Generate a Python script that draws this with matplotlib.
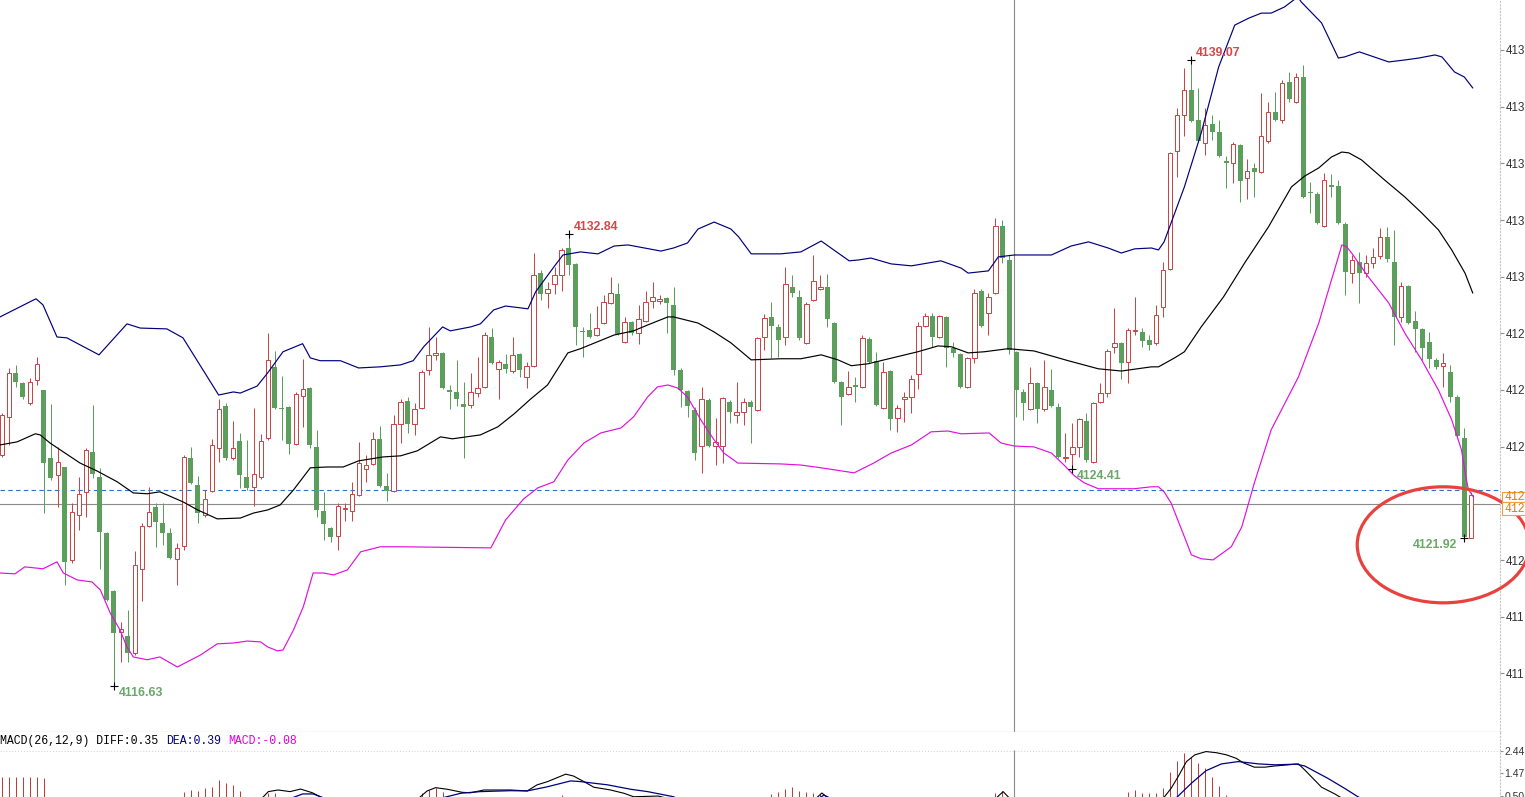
import matplotlib
matplotlib.use('Agg')
import matplotlib.pyplot as plt
import matplotlib.transforms as mtransforms
from matplotlib.patches import Ellipse, Rectangle
import numpy as np

nan = np.nan

# candles (1 bar per slot, oldest first)
opens = [4124.91, 4126.28, 4127.85, 4127.49, 4126.77, 4127.60, 4127.24, 4124.80, 4124.20, 4124.48,
         4121.15, 4122.76, 4123.59, 4125.02, 4124.13, 4122.12, 4120.03, 4118.57, 4118.42, 4117.81,
         4120.83, 4122.36, 4123.05, 4122.47, 4122.12, 4121.19, 4121.65, 4124.80, 4123.84, 4122.76,
         4123.62, 4125.16, 4126.67, 4124.80, 4125.41, 4124.13, 4123.77, 4124.13, 4125.52, 4128.07,
         4126.60, 4126.63, 4125.31, 4127.03, 4127.31, 4125.20, 4122.90, 4122.29, 4122.01, 4122.98,
         4122.90, 4123.48, 4124.41, 4124.59, 4125.49, 4123.80, 4123.62, 4126.03, 4126.85, 4126.03,
         4126.60, 4127.96, 4128.50, 4128.57, 4127.24, 4127.17, 4126.74, 4126.70, 4127.13, 4127.35,
         4129.14, 4128.00, 4128.18, 4127.92, 4128.54, 4127.71, 4128.11, 4131.43, 4130.72, 4131.05,
         4131.36, 4132.33, 4131.76, 4129.36, 4129.39, 4129.21, 4129.64, 4130.36, 4130.69, 4128.97,
         4129.68, 4129.28, 4129.71, 4130.43, 4130.43, 4130.54, 4130.29, 4127.96, 4127.20, 4126.53,
         4125.23, 4126.88, 4125.23, 4125.23, 4126.81, 4126.35, 4126.46, 4126.81, 4126.53, 4129.14,
         4129.86, 4129.50, 4129.14, 4130.94, 4130.58, 4128.93, 4130.47, 4130.87, 4130.94, 4129.64,
         4127.53, 4127.10, 4127.42, 4127.35, 4129.07, 4128.29, 4126.60, 4127.92, 4126.24, 4126.92,
         4126.99, 4127.82, 4129.54, 4129.89, 4129.14, 4129.86, 4128.75, 4128.54, 4127.35, 4128.39,
         4130.79, 4130.00, 4130.72, 4133.12, 4131.90, 4128.61, 4127.17, 4126.56, 4127.49, 4126.56,
         4127.24, 4126.63, 4124.80, 4124.95, 4125.20, 4126.13, 4124.66, 4126.81, 4127.13, 4128.79,
         4128.93, 4128.25, 4129.36, 4129.32, 4129.04, 4128.93, 4130.22, 4131.58, 4135.81, 4137.10,
         4137.99, 4136.92, 4136.10, 4136.78, 4136.49, 4135.45, 4135.38, 4136.02, 4134.84, 4135.20,
         4135.06, 4136.17, 4137.21, 4136.92, 4138.28, 4137.57, 4138.46, 4134.34, 4134.27, 4133.12,
         4134.59, 4134.55, 4133.19, 4131.43, 4131.83, 4131.43, 4131.79, 4132.04, 4132.73, 4131.83,
         4129.86, 4130.97, 4129.71, 4129.43, 4128.97, 4128.32, 4128.11, 4127.89, 4126.99, 4125.52,
         4121.92]
highs = [4126.42, 4128.03, 4128.14, 4127.53, 4127.67, 4128.43, 4127.24, 4126.74, 4125.20, 4124.48,
         4123.19, 4124.13, 4125.16, 4126.70, 4124.45, 4122.16, 4120.07, 4118.93, 4119.36, 4121.47,
         4122.47, 4123.77, 4123.19, 4123.19, 4122.29, 4121.76, 4124.91, 4125.20, 4124.16, 4123.66,
         4125.49, 4126.92, 4126.77, 4126.13, 4125.70, 4125.45, 4126.60, 4125.67, 4129.28, 4128.64,
         4127.74, 4126.67, 4127.17, 4128.36, 4127.35, 4125.81, 4123.59, 4122.33, 4123.19, 4123.19,
         4123.95, 4125.38, 4124.91, 4125.74, 4125.95, 4124.27, 4126.35, 4126.92, 4126.99, 4126.77,
         4127.96, 4129.50, 4129.14, 4128.61, 4127.42, 4128.32, 4127.53, 4127.85, 4128.43, 4129.32,
         4129.46, 4128.32, 4128.54, 4129.14, 4128.57, 4128.25, 4132.15, 4131.54, 4131.12, 4131.65,
         4132.33, 4132.84, 4131.79, 4129.50, 4130.00, 4130.25, 4130.65, 4131.29, 4131.08, 4129.86,
         4129.71, 4130.29, 4130.79, 4131.12, 4130.65, 4130.58, 4130.94, 4128.03, 4127.24, 4126.63,
         4127.35, 4126.96, 4126.24, 4126.99, 4126.88, 4127.53, 4126.96, 4126.88, 4129.14, 4129.97,
         4130.40, 4129.61, 4131.65, 4131.36, 4130.83, 4130.40, 4132.08, 4131.36, 4131.40, 4129.68,
         4127.56, 4127.92, 4127.71, 4129.21, 4129.14, 4128.61, 4128.25, 4127.96, 4126.70, 4127.17,
         4127.78, 4129.68, 4130.00, 4130.00, 4129.93, 4129.89, 4128.97, 4128.57, 4128.43, 4130.87,
         4130.87, 4130.72, 4133.41, 4133.34, 4132.08, 4128.64, 4127.28, 4128.07, 4127.53, 4128.32,
         4128.00, 4126.77, 4125.70, 4126.06, 4126.24, 4126.42, 4126.81, 4127.49, 4128.72, 4130.18,
         4128.97, 4129.46, 4130.58, 4129.46, 4129.21, 4130.29, 4131.83, 4135.77, 4137.35, 4138.78,
         4139.07, 4138.07, 4137.35, 4137.10, 4136.92, 4135.63, 4136.13, 4136.06, 4135.52, 4135.38,
         4137.89, 4137.57, 4137.92, 4138.35, 4138.64, 4138.60, 4138.89, 4134.70, 4134.34, 4135.02,
         4134.98, 4134.77, 4133.26, 4132.08, 4132.19, 4132.08, 4132.33, 4133.05, 4133.08, 4132.98,
         4131.12, 4131.01, 4130.07, 4129.46, 4129.32, 4128.39, 4128.57, 4128.14, 4127.06, 4125.88,
         4123.59]
lows = [4124.84, 4125.27, 4127.35, 4126.92, 4126.70, 4127.42, 4122.83, 4124.02, 4123.05, 4120.25,
        4121.04, 4122.23, 4122.69, 4124.09, 4120.83, 4119.68, 4116.63, 4117.50, 4117.50, 4117.74,
        4119.68, 4122.33, 4121.62, 4121.69, 4121.19, 4120.25, 4121.51, 4123.88, 4122.47, 4122.69,
        4123.59, 4124.66, 4124.73, 4124.73, 4123.73, 4123.66, 4123.09, 4124.06, 4125.45, 4126.56,
        4125.45, 4124.95, 4125.27, 4125.92, 4125.16, 4122.69, 4121.87, 4121.80, 4121.51, 4122.55,
        4122.55, 4123.44, 4123.95, 4124.55, 4123.77, 4123.26, 4123.59, 4125.34, 4125.70, 4125.63,
        4126.56, 4127.78, 4128.32, 4127.28, 4126.56, 4126.67, 4124.80, 4126.60, 4126.99, 4127.31,
        4128.18, 4126.92, 4127.85, 4127.85, 4127.71, 4127.31, 4128.07, 4130.47, 4130.18, 4130.69,
        4130.79, 4131.36, 4128.86, 4128.43, 4129.11, 4129.18, 4129.61, 4130.33, 4129.21, 4128.93,
        4129.21, 4128.90, 4129.68, 4130.18, 4130.33, 4129.28, 4127.78, 4126.63, 4126.28, 4124.73,
        4124.27, 4125.20, 4124.55, 4124.62, 4126.06, 4126.06, 4125.99, 4125.34, 4126.49, 4128.68,
        4128.39, 4128.43, 4128.86, 4130.58, 4129.04, 4128.90, 4130.43, 4130.83, 4129.50, 4127.49,
        4125.99, 4127.06, 4126.81, 4127.31, 4128.21, 4126.67, 4126.56, 4125.81, 4125.74, 4126.10,
        4126.42, 4127.28, 4129.50, 4128.79, 4129.11, 4128.07, 4128.43, 4127.31, 4127.31, 4128.21,
        4129.50, 4129.21, 4130.69, 4131.79, 4128.54, 4126.28, 4126.17, 4126.53, 4126.06, 4126.49,
        4126.63, 4124.80, 4124.66, 4124.41, 4124.84, 4124.66, 4124.62, 4126.77, 4126.99, 4128.57,
        4127.64, 4127.49, 4129.21, 4128.79, 4128.68, 4128.86, 4129.86, 4131.54, 4134.88, 4136.35,
        4136.85, 4136.13, 4135.67, 4136.20, 4135.60, 4134.48, 4134.66, 4133.98, 4134.09, 4134.16,
        4135.02, 4136.10, 4136.88, 4136.81, 4137.57, 4137.53, 4134.12, 4133.59, 4133.19, 4133.08,
        4134.16, 4133.19, 4130.65, 4131.08, 4130.36, 4131.29, 4131.61, 4131.94, 4131.83, 4128.86,
        4129.68, 4129.61, 4128.61, 4128.32, 4128.03, 4128.00, 4127.35, 4126.81, 4125.56, 4121.92,
        4121.92]
closes = [4126.35, 4127.85, 4127.53, 4126.99, 4127.53, 4128.18, 4124.62, 4124.09, 4124.66, 4121.08,
          4122.87, 4123.52, 4125.09, 4124.23, 4122.16, 4119.72, 4118.53, 4118.68, 4117.81, 4120.97,
          4122.36, 4122.87, 4122.51, 4122.12, 4121.22, 4121.58, 4124.84, 4123.91, 4122.83, 4123.34,
          4125.27, 4126.56, 4124.80, 4125.16, 4124.20, 4123.73, 4124.23, 4125.41, 4128.32, 4126.60,
          4126.56, 4125.31, 4127.10, 4127.28, 4125.27, 4122.94, 4122.44, 4121.98, 4123.09, 4123.01,
          4123.52, 4124.62, 4124.55, 4125.49, 4123.80, 4123.62, 4126.03, 4126.81, 4126.03, 4126.56,
          4127.89, 4128.50, 4128.57, 4127.31, 4127.17, 4126.92, 4126.63, 4127.17, 4127.31, 4129.21,
          4128.21, 4128.25, 4128.00, 4128.50, 4127.96, 4128.11, 4131.36, 4130.69, 4130.87, 4131.36,
          4132.26, 4131.72, 4129.50, 4129.32, 4129.14, 4129.46, 4130.40, 4130.72, 4129.25, 4129.68,
          4129.28, 4129.79, 4130.40, 4130.58, 4130.51, 4130.36, 4127.96, 4127.24, 4126.67, 4124.98,
          4126.92, 4125.23, 4125.38, 4126.96, 4126.46, 4126.46, 4126.81, 4126.63, 4129.11, 4129.82,
          4129.54, 4129.04, 4131.05, 4130.72, 4129.11, 4130.33, 4131.15, 4130.94, 4129.79, 4127.53,
          4126.99, 4127.35, 4127.35, 4129.11, 4128.25, 4126.70, 4127.89, 4126.20, 4126.60, 4126.99,
          4127.64, 4129.54, 4129.89, 4129.14, 4129.89, 4128.75, 4128.57, 4127.35, 4128.39, 4130.72,
          4129.54, 4130.58, 4133.12, 4131.97, 4128.68, 4127.24, 4126.77, 4127.49, 4126.56, 4127.35,
          4126.67, 4124.84, 4124.84, 4125.20, 4126.20, 4124.73, 4126.77, 4127.13, 4128.64, 4128.93,
          4128.21, 4129.39, 4129.39, 4129.00, 4128.86, 4129.93, 4131.54, 4135.74, 4137.10, 4137.99,
          4136.88, 4136.17, 4136.74, 4136.49, 4135.63, 4135.38, 4136.06, 4134.73, 4135.09, 4135.06,
          4136.35, 4137.21, 4136.92, 4138.24, 4137.67, 4138.46, 4134.16, 4134.30, 4133.23, 4134.77,
          4134.52, 4133.23, 4131.47, 4131.90, 4131.43, 4131.79, 4132.01, 4132.73, 4131.94, 4129.86,
          4130.97, 4129.64, 4129.43, 4128.75, 4128.36, 4128.07, 4128.21, 4126.99, 4125.59, 4121.98,
          4123.48]

# bollinger bands at (bar slot, price)
upper_pos = [-0.24, 4.9, 5.9, 7.9, 9.3, 13.9, 17.9, 19.8, 23.6, 25.9, 31.0, 33.1, 34.1, 36.5, 38.0,
             40.2, 43.0, 44.1, 45.5, 48.4, 51.0, 54.1, 57.0, 58.8, 60.3, 63.0, 64.1, 67.0, 68.4, 70.3,
             72.0, 75.2, 76.3, 78.9, 80.2, 82.7, 85.2, 87.5, 89.5, 94.2, 96.0, 98.0, 99.5, 101.8, 104.2,
             105.3, 107.1, 111.3, 114.2, 117.1, 118.9, 121.1, 122.4, 124.2, 127.1, 130.0, 134.2, 137.1,
             138.1, 141.0, 142.4, 144.7, 150.0, 152.8, 155.3, 158.1, 160.0, 161.9, 164.3, 165.3, 166.1,
             169.0, 171.4, 173.9, 176.2, 178.2, 180.0, 181.4, 183.3, 185.2, 185.7, 188.6, 191.0, 191.9,
             194.0, 198.2, 200.5, 202.5, 204.8, 205.8, 207.6, 209.0, 210.2]
upper_val = [4129.86, 4130.51, 4130.29, 4129.14, 4129.11, 4128.50, 4129.61, 4129.46, 4129.43, 4129.11,
             4127.06, 4127.17, 4127.13, 4127.38, 4127.85, 4128.61, 4128.90, 4128.39, 4128.29, 4128.29,
             4128.03, 4128.07, 4128.14, 4128.29, 4128.79, 4129.50, 4129.36, 4129.50, 4129.61, 4130.11,
             4130.25, 4130.15, 4130.76, 4131.65, 4132.08, 4132.19, 4132.12, 4132.40, 4132.44, 4132.22,
             4132.33, 4132.51, 4133.01, 4133.26, 4133.01, 4132.73, 4132.12, 4132.12, 4132.19, 4132.58,
             4132.26, 4131.87, 4131.90, 4131.97, 4131.76, 4131.69, 4131.87, 4131.61, 4131.43, 4131.51,
             4132.01, 4132.08, 4132.08, 4132.40, 4132.55, 4132.33, 4132.15, 4132.30, 4132.33, 4132.26,
             4132.55, 4134.52, 4136.45, 4138.82, 4140.32, 4140.57, 4140.75, 4140.75, 4140.97, 4141.33,
             4141.15, 4140.40, 4139.14, 4139.18, 4139.36, 4139.00, 4139.07, 4139.14, 4139.25, 4139.18,
             4138.64, 4138.46, 4138.07]
mid_pos = [-0.24, 2.2, 4.8, 5.5, 6.9, 11.2, 13.6, 16.5, 18.8, 20.8, 22.6, 25.9, 28.0, 30.8, 34.1, 36.0,
           38.0, 39.8, 41.7, 44.1, 46.5, 48.8, 51.0, 54.5, 57.0, 59.4, 62.7, 64.4, 68.4, 70.9, 73.2, 75.6,
           78.0, 80.9, 82.7, 87.5, 90.3, 92.3, 95.2, 96.0, 99.5, 101.8, 104.2, 107.1, 111.3, 114.2, 117.1,
           119.5, 121.4, 123.8, 126.1, 130.9, 133.8, 135.7, 138.1, 140.4, 143.8, 147.5, 152.4, 156.7,
           160.0, 164.3, 165.3, 167.6, 169.0, 171.4, 174.6, 177.6, 181.0, 184.3, 186.2, 188.2, 190.0,
           191.5, 192.5, 194.3, 197.6, 200.5, 202.9, 205.3, 207.2, 209.1, 210.2]
mid_val = [4125.27, 4125.38, 4125.67, 4125.63, 4125.34, 4124.62, 4124.34, 4123.95, 4123.55, 4123.52,
           4123.59, 4123.23, 4122.94, 4122.62, 4122.65, 4122.83, 4122.94, 4123.12, 4123.66, 4124.45,
           4124.48, 4124.48, 4124.70, 4124.84, 4124.88, 4125.06, 4125.56, 4125.49, 4125.63, 4125.92,
           4126.38, 4126.92, 4127.42, 4128.57, 4128.72, 4129.21, 4129.36, 4129.57, 4129.86, 4129.86,
           4129.64, 4129.32, 4128.93, 4128.32, 4128.36, 4128.36, 4128.50, 4128.32, 4128.11, 4128.18,
           4128.32, 4128.61, 4128.82, 4128.79, 4128.57, 4128.61, 4128.72, 4128.64, 4128.29, 4128.00,
           4127.92, 4128.07, 4128.07, 4128.39, 4128.61, 4129.50, 4130.58, 4131.79, 4133.08, 4134.52,
           4134.91, 4135.20, 4135.59, 4135.77, 4135.74, 4135.49, 4134.77, 4134.16, 4133.59, 4132.98,
           4132.26, 4131.43, 4130.72]
lower_pos = [-0.24, 1.9, 3.3, 5.9, 7.9, 8.8, 10.8, 12.9, 14.1, 15.5, 16.9, 17.9, 18.8, 20.8, 22.6, 25.1,
             28.4, 30.8, 33.1, 35.1, 37.0, 38.0, 39.4, 40.2, 41.7, 43.1, 44.5, 46.0, 47.4, 49.4, 51.3,
             54.1, 57.0, 69.9, 72.0, 74.6, 76.6, 78.9, 80.9, 83.2, 85.6, 88.5, 90.3, 92.3, 93.7, 95.2,
             96.6, 98.0, 99.9, 101.8, 103.2, 105.2, 111.3, 114.2, 117.1, 121.8, 124.6, 127.1, 130.0,
             132.8, 135.2, 137.1, 141.1, 142.8, 144.7, 147.5, 150.0, 151.8, 153.3, 154.7, 156.7, 161.8,
             164.3, 165.3, 166.1, 167.1, 169.0, 170.0, 171.4, 173.1, 175.7, 177.2, 179.0, 181.4, 185.3,
             188.2, 189.6, 191.0, 191.5, 192.2, 192.9, 195.3, 198.2, 200.5, 202.9, 205.3, 207.2, 208.6,
             209.3, 209.6, 210.3]
lower_val = [4120.68, 4120.65, 4120.90, 4120.83, 4121.08, 4120.68, 4120.43, 4120.36, 4120.07, 4119.25,
             4118.64, 4118.03, 4117.67, 4117.57, 4117.67, 4117.31, 4117.74, 4118.14, 4118.17, 4118.24,
             4118.21, 4118.03, 4117.89, 4117.92, 4118.64, 4119.47, 4120.68, 4120.68, 4120.61, 4120.79,
             4121.44, 4121.62, 4121.62, 4121.58, 4122.58, 4123.34, 4123.73, 4123.95, 4124.73, 4125.34,
             4125.70, 4125.88, 4126.28, 4126.99, 4127.35, 4127.42, 4127.31, 4126.99, 4126.17, 4125.45,
             4124.98, 4124.62, 4124.59, 4124.55, 4124.45, 4124.27, 4124.62, 4124.98, 4125.27, 4125.74,
             4125.77, 4125.67, 4125.70, 4125.34, 4125.23, 4125.20, 4124.98, 4124.55, 4124.16, 4123.91,
             4123.70, 4123.70, 4123.77, 4123.77, 4123.59, 4123.19, 4121.98, 4121.33, 4121.19, 4121.15,
             4121.62, 4122.33, 4123.91, 4125.81, 4127.71, 4129.64, 4130.83, 4132.01, 4132.44, 4132.37,
             4132.15, 4131.29, 4130.36, 4129.28, 4128.32, 4127.24, 4126.17, 4125.09, 4124.02, 4123.66,
             4123.41]

# high / low marks
mark_pos = [16, 81, 153, 170, 209]
mark_price = [4116.63, 4132.84, 4124.41, 4139.07, 4121.92]
mark_is_high = [False, True, False, True, False]

last_price = 4123.66
cross_price = 4123.16
cross_pos = 144.6

price_ticks = [4139.43, 4137.40, 4135.37, 4133.33, 4131.30, 4129.27, 4127.24, 4125.21,
               4121.14, 4119.11, 4117.08]
price_labels = ['413', '413', '413', '413', '413', '412', '412', '412', '412', '411', '411']

# MACD panel (only the part above the crop line is visible)
macd_bar_pos = [0, 1, 2, 3, 4, 5, 6, 26, 27, 28, 29, 30, 31, 32, 33, 34, 38, 39, 60, 61, 62, 63, 80,
                110, 111, 112, 113, 114, 115, 116, 117, 142, 143,
                161, 162, 163, 164, 165, 166, 167, 168, 169, 170, 171, 172, 173, 174, 175]
macd_bar_val = [1.32, 1.31, 1.31, 1.30, 1.31, 1.30, 1.28, 0.68, 0.75, 0.72, 0.84, 0.89, 1.17, 1.06,
                0.96, 0.71, 0.64, 0.60, 0.61, 0.75, 0.84, 0.68, 0.54,
                0.58, 0.68, 0.79, 0.89, 0.71, 0.68, 0.64, 0.58, 0.64, 0.72,
                0.68, 0.75, 0.64, 0.61, 0.61, 0.82, 1.54, 2.01, 2.35, 2.16, 1.92, 1.68, 1.32, 0.92, 0.54]
diff_pos = [37.2, 38.1, 39.5, 41.2, 42.7, 44.4, 45.5, 45.8, nan,
            59.6, 60.8, 62.0, 63.7, 65.8, 67.0, 68.9, 71.3, 72.7, 75.1, 76.5, 78.0, 80.6, 81.7, 83.2,
            84.6, 87.0, 88.9, 90.3, 93.8, 95.0, nan,
            116.4, 117.2, 118.1, nan,
            142.1, 143.1, 144.0, nan,
            166.0, 167.1, 168.1, 169.3, 170.5, 172.1, 173.6, 175.0, 176.4, 177.4, 179.0, 180.5, 181.9,
            183.8, 185.3, 186.2, 188.6, 190.5, 191.5]
diff_val = [0.40, 0.68, 0.75, 0.68, 0.79, 0.63, 0.46, 0.40, nan,
            0.40, 0.71, 0.85, 0.78, 0.65, 0.63, 0.75, 0.75, 0.75, 0.71, 0.97, 1.11, 1.43, 1.35, 1.11,
            0.87, 0.75, 0.61, 0.46, 0.49, 0.40, nan,
            0.40, 0.62, 0.40, nan,
            0.40, 0.68, 0.40, nan,
            0.40, 0.82, 1.32, 1.97, 2.26, 2.40, 2.35, 2.26, 2.11, 1.92, 1.73, 1.73, 1.78,
            1.83, 1.87, 1.61, 0.87, 0.58, 0.40]
dea_pos = [41.4, 43.0, 44.5, 46.1, nan,
           62.8, 65.6, 68.4, 72.7, 75.1, 78.0, 81.3, 82.7, 86.6, 89.9, 92.3, 96.0, 96.4, nan,
           116.8, 117.5, 118.4, nan,
           167.8, 170.0, 172.1, 174.3, 176.7, 179.6, 182.0, 185.0, 186.2, 189.5, 191.9, 193.8, 194.2]
dea_val = [0.40, 0.58, 0.58, 0.40, nan,
           0.40, 0.61, 0.68, 0.72, 0.71, 0.89, 1.14, 1.11, 0.97, 0.78, 0.68, 0.46, 0.40, nan,
           0.40, 0.53, 0.40, nan,
           0.40, 1.04, 1.58, 1.87, 1.97, 1.87, 1.83, 1.86, 1.78, 1.25, 0.82, 0.46, 0.40]
macd_ticks = [2.44, 1.47, 0.50]
macd_labels = ['2.44', '1.47', '0.50']

RED = '#c84646'
GREEN = '#5c9e5c'
PX = 0.72  # one pixel in points

plt.rcParams['font.family'] = ['Liberation Sans', 'DejaVu Sans']

fig = plt.figure(figsize=(15.25, 7.97), dpi=100, facecolor='white')
ax = fig.add_axes([0, 65 / 797, 1500 / 1525, 732 / 797])
ax2 = fig.add_axes([0, 0, 1500 / 1525, 65 / 797])

o = np.array(opens)
h = np.array(highs)
l = np.array(lows)
c = np.array(closes)
x = np.arange(len(o))
up = c >= o
body_lo = np.minimum(o, c)
body_h = np.abs(c - o)

ax.vlines(x[up], l[up], h[up], color=RED, lw=PX, zorder=2)
ax.vlines(x[~up], l[~up], h[~up], color=GREEN, lw=PX, zorder=2)
ax.bar(x[up], body_h[up], bottom=body_lo[up], width=0.6, facecolor='white',
       edgecolor=RED, lw=PX, zorder=3)
ax.bar(x[~up], np.maximum(body_h[~up], 0.035), bottom=body_lo[~up], width=0.72,
       color=GREEN, lw=0, zorder=3)

ax.plot(upper_pos, upper_val, color='#00007a', lw=0.85, zorder=4)
ax.plot(mid_pos, mid_val, color='black', lw=0.85, zorder=4)
ax.plot(lower_pos, lower_val, color='#e010e0', lw=0.85, zorder=4)

ax.axhline(last_price, color='#2f6fd0', lw=0.8, ls=(0, (4, 3)), zorder=1)
ax.axhline(cross_price, color='#8a8a8a', lw=0.8, zorder=1)
ax.axvline(cross_pos, color='#8a8a8a', lw=0.8, zorder=1)

# marks on extreme highs/lows
for p, v, hi in zip(mark_pos, mark_price, mark_is_high):
    ax.plot(p, v, marker='+', color='black', ms=6, mew=0.8, zorder=5)
    col = '#d24848' if hi else '#68a868'
    if p > 200:
        xy_off, ha = (-5, -5), 'right'
    else:
        xy_off, ha = (3.5, 5 if hi else -5), 'left'
    ax.annotate(f'{v:.2f}', xy=(p, v), xytext=xy_off, textcoords='offset points',
                ha=ha, va='center', color=col, fontsize=8.8, fontweight='bold', zorder=6)

ax.add_patch(Ellipse((206.0, 4121.69), 24.6, 4.16, fill=False, edgecolor='#e8423e',
                     lw=2.3, clip_on=False, zorder=7))

ax.set_xlim(-0.243, 214.1)
ax.set_ylim(4114.98, 4141.22)
ax.set_xticks([])
ax.yaxis.tick_right()
ax.set_yticks(price_ticks)
ax.set_yticklabels(price_labels)
ax.tick_params(axis='y', length=3, width=0.8, color='#909090', pad=1.5,
               labelsize=8.4, labelcolor='#333333')
for s in ['top', 'left']:
    ax.spines[s].set_visible(False)
ax.spines['bottom'].set_color('#d8d8d8')
ax.spines['bottom'].set_linewidth(1.0)
ax.spines['right'].set_color('#c4c4c4')
ax.spines['right'].set_linestyle((0, (1, 2)))
ax.spines['right'].set_linewidth(0.8)

# orange price boxes on the price axis
tr = mtransforms.blended_transform_factory(fig.transFigure, ax.transData)
for top, bot in [(4123.60, 4123.21), (4123.21, 4122.76)]:
    ax.add_patch(Rectangle((1502 / 1525, bot), 30 / 1525, top - bot, transform=tr,
                           facecolor='white', edgecolor='#f0a040', lw=0.8,
                           clip_on=False, zorder=8))
    ax.text(1504 / 1525, (top + bot) / 2, '412', transform=tr, color='#e07c10',
            fontsize=8.3, family=['Liberation Mono', 'DejaVu Sans Mono'],
            va='center', ha='left', clip_on=False, zorder=9)

# MACD panel
ax2.vlines(macd_bar_pos, 0, macd_bar_val, color='#c03c3c', lw=PX, zorder=2)
ax2.plot(diff_pos, diff_val, color='black', lw=0.8, zorder=3)
ax2.plot(dea_pos, dea_val, color='#00007a', lw=0.9, zorder=3)
ax2.vlines(cross_pos, 0, 2.47, color='#8a8a8a', lw=0.8, zorder=1)
ax2.axhline(2.44, color='#d0d0d0', lw=0.7, ls=(0, (1, 2)), zorder=1)

ax2.set_xlim(ax.get_xlim())
ax2.set_ylim(0.449, 3.24)
ax2.set_xticks([])
ax2.yaxis.tick_right()
ax2.set_yticks(macd_ticks)
ax2.set_yticklabels(macd_labels)
ax2.tick_params(axis='y', length=2.5, width=0.8, color='#909090', pad=0.8,
                labelsize=7.5, labelcolor='#333333')
for s in ['top', 'left', 'bottom']:
    ax2.spines[s].set_visible(False)
ax2.spines['right'].set_color('#c4c4c4')
ax2.spines['right'].set_linestyle((0, (1, 2)))
ax2.spines['right'].set_linewidth(0.8)

mono = ['Liberation Mono', 'DejaVu Sans Mono']
char_pt = 4.99
header = [('MACD(26,12,9) DIFF:0.35', 'black', 0),
          ('DEA:0.39', '#000080', 24),
          ('MACD:-0.08', '#e000e0', 33)]
for txt, col, n in header:
    t = mtransforms.offset_copy(ax2.transAxes, fig=fig, x=n * char_pt, y=0, units='points')
    ax2.text(0, 0.862, txt, transform=t, color=col, fontsize=8.3, family=mono,
             va='center', ha='left')

fig.savefig('out.png', dpi=100)
